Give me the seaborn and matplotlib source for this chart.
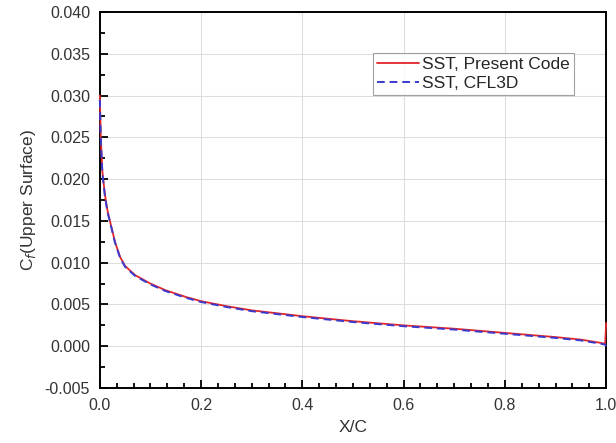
import matplotlib
matplotlib.use("Agg")
import matplotlib.pyplot as plt
import seaborn as sns
import pandas as pd
from matplotlib.ticker import MultipleLocator, AutoMinorLocator

# chordwise stations (X/C)
x_c = [0.0, 0.002, 0.005, 0.01, 0.015, 0.02, 0.03, 0.04, 0.05, 0.07,
       0.10, 0.13, 0.17, 0.20, 0.25, 0.30, 0.40, 0.50, 0.60, 0.70,
       0.80, 0.90, 0.95, 0.99, 0.998, 1.0]
# skin friction, upper surface
cf_present = [0.0300, 0.0250, 0.0210, 0.0182, 0.0163, 0.0150, 0.0125, 0.0107, 0.0096, 0.0085,
              0.0075, 0.0067, 0.0059, 0.0054, 0.0048, 0.0043, 0.0036, 0.0030, 0.0025, 0.0021,
              0.0016, 0.0011, 0.0008, 0.0004, 0.0003, 0.0028]
cf_cfl3d = [0.0295, 0.0248, 0.0208, 0.0180, 0.0161, 0.0149, 0.0124, 0.0106, 0.0095, 0.0084,
            0.0074, 0.0066, 0.0058, 0.0053, 0.0047, 0.0042, 0.0035, 0.0029, 0.0024, 0.0020,
            0.0015, 0.0010, 0.0007, 0.0003, 0.0002, 0.0000]

df = pd.DataFrame({"x": x_c, "present": cf_present, "cfl3d": cf_cfl3d})

sns.set_theme(style="white")
plt.rcParams["font.family"] = ["Liberation Sans", "DejaVu Sans"]

fig = plt.figure(figsize=(6.16, 4.43), dpi=100)
ax = fig.add_axes([0.162, 0.124, 0.822, 0.849])

sns.lineplot(data=df, x="x", y="present", ax=ax, color="#e0262b", lw=1.3,
             label="SST, Present Code", sort=False, clip_on=False, zorder=5)
sns.lineplot(data=df, x="x", y="cfl3d", ax=ax, color="#3a3acf", lw=1.4,
             linestyle=(0, (4, 2.5)), label="SST, CFL3D", sort=False,
             clip_on=False, zorder=6)

ax.set_xlim(0, 1.0)
ax.set_ylim(-0.005, 0.040)
ax.xaxis.set_major_locator(MultipleLocator(0.2))
ax.xaxis.set_minor_locator(AutoMinorLocator(6))
ax.yaxis.set_major_locator(MultipleLocator(0.005))
ax.yaxis.set_minor_locator(AutoMinorLocator(2))
ax.xaxis.set_major_formatter(matplotlib.ticker.FormatStrFormatter("%.1f"))
ax.yaxis.set_major_formatter(matplotlib.ticker.FormatStrFormatter("%.3f"))

ax.grid(True, which="major", color="#dddddd", lw=0.8)
ax.tick_params(which="both", direction="in", bottom=True, left=True,
               top=False, right=False, colors="black", labelcolor="#333333",
               labelsize=11.5, pad=7)
ax.tick_params(which="major", length=6, width=1.3)
ax.tick_params(which="minor", length=3.5, width=1.3)
for s in ax.spines.values():
    s.set_color("black")
    s.set_linewidth(1.4)
    s.set_zorder(3)

ax.set_xlabel("X/C", fontsize=12.5, color="#333333", labelpad=5)
ax.set_ylabel("C$_f$(Upper Surface)", fontsize=12.5, color="#333333", labelpad=5)

leg = ax.legend(loc="upper left", bbox_to_anchor=(0.539, 0.891), fontsize=12.5,
                frameon=True, fancybox=False, handlelength=2.4, handletextpad=0.2,
                borderpad=0.25, labelspacing=0.2, borderaxespad=0)
leg.get_frame().set_edgecolor("#888888")
leg.get_frame().set_linewidth(0.8)
leg.set_zorder(10)

fig.savefig("out.png", dpi=100)
